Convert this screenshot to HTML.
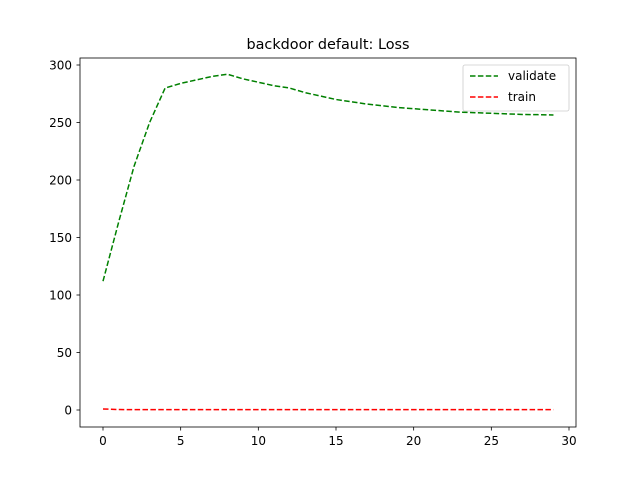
<!DOCTYPE html>
<html><head><meta charset="utf-8"><style>body{margin:0;background:#fff}svg{display:block;font-family:"DejaVu Sans","Liberation Sans",sans-serif}</style></head>
<body>
<svg id="chart" width="640" height="480">
<rect width="640" height="480" fill="#fff"/>
<text x="328" y="49" font-size="14.4" text-anchor="middle">backdoor default: Loss</text>
<g id="plot"></g>
<rect x="80" y="58" width="496" height="369" fill="none" stroke="#000" stroke-width="0.8"/>
<g>
<rect x="463" y="65" width="106" height="46" rx="2" fill="#fff" stroke="#ccc" stroke-width="0.8"/>
<line x1="470" y1="76" x2="498" y2="76" stroke="green" stroke-width="1.5" stroke-dasharray="5.5,2.4"/>
<text x="508" y="80" font-size="12">validate</text>
<line x1="470" y1="97" x2="498" y2="97" stroke="red" stroke-width="1.5" stroke-dasharray="5.5,2.4"/>
<text x="508" y="101" font-size="12">train</text>
</g>
</svg>
<script>
const epochs = [0,1,2,3,4,5,6,7,8,9,10,11,12,13,14,15,16,17,18,19,20,21,22,23,24,25,26,27,28,29];
const validate = [112,163,212,250,280,284,287,290,292,288,285,282,280,276,273,270,268,266,264.5,263,262,261,260,259,258.5,258,257.5,257,256.8,256.5];
const train = [0.9,0.4,0.3,0.3,0.3,0.3,0.3,0.3,0.3,0.3,0.3,0.3,0.3,0.3,0.3,0.3,0.3,0.3,0.3,0.3,0.3,0.3,0.3,0.3,0.3,0.3,0.3,0.3,0.3,0.3];
const xTicks = [0,5,10,15,20,25,30];
const yTicks = [0,50,100,150,200,250,300];
const ns = "http://www.w3.org/2000/svg";
const xs = v => 103 + v * (569 - 103) / 30;
const ys = v => 410 - v * (410 - 65) / 300;
const g = document.getElementById('plot');
function mk(tag, attrs, parent) {
  const e = document.createElementNS(ns, tag);
  for (const k in attrs) e.setAttribute(k, attrs[k]);
  (parent || g).appendChild(e);
  return e;
}
xTicks.forEach(t => {
  const l = mk('line', {x1: xs(t), x2: xs(t), y1: 427, y2: 430.5, stroke: '#000', 'stroke-width': 0.8});
  
  
  const tx = mk('text', {x: xs(t), y: 445, 'font-size': 12, 'text-anchor': 'middle'});
  tx.textContent = t;
  
  
});
yTicks.forEach(t => {
  const l = mk('line', {x1: 76.5, x2: 80, y1: ys(t), y2: ys(t), stroke: '#000', 'stroke-width': 0.8});
  
  
  const tx = mk('text', {x: 72, y: ys(t) + 4.5, 'font-size': 12, 'text-anchor': 'end'});
  tx.textContent = t;
  
  
});
function series(vals, color, name) {
  const p = mk('polyline', {points: vals.map((v, i) => xs(epochs[i]) + ',' + ys(v)).join(' '), fill: 'none', stroke: color, 'stroke-width': 1.5, 'stroke-dasharray': '5.5,2.4'});
  
  
}
series(validate, 'green', 'validate-line');
series(train, 'red', 'train-line');
</script>
</body></html>
